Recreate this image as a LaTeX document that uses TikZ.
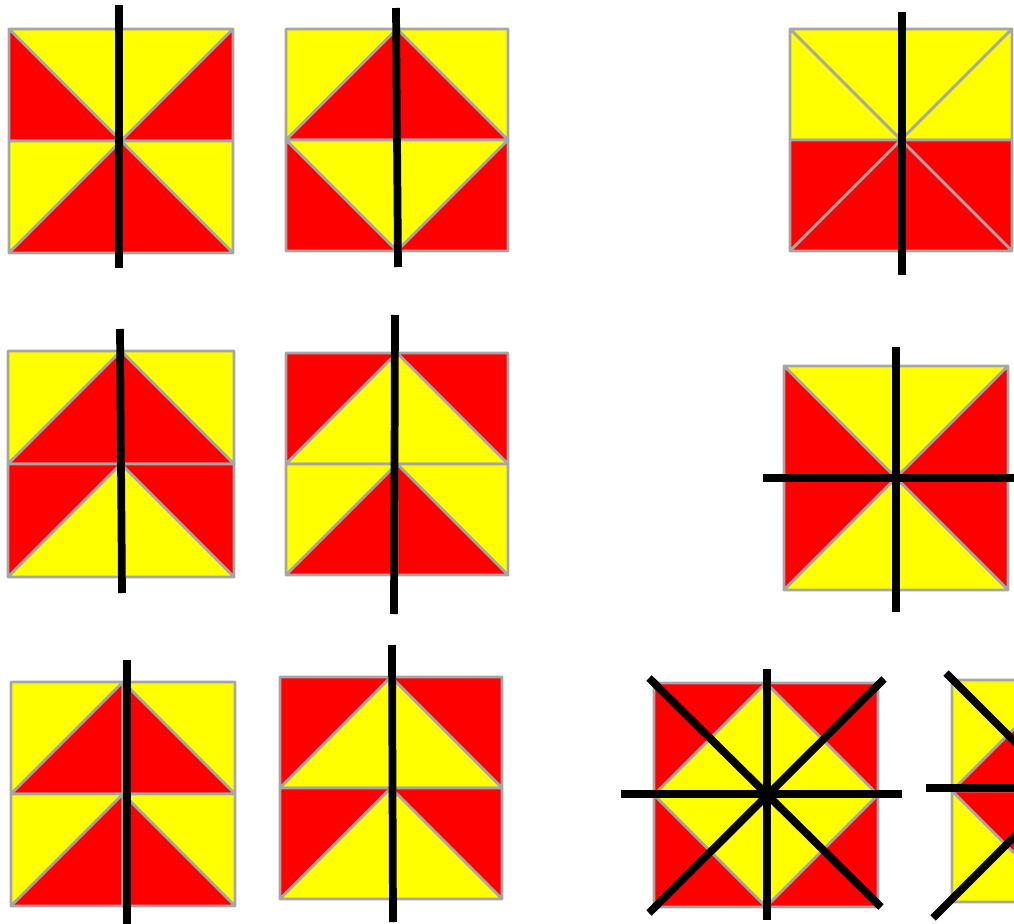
\documentclass[tikz,border=0pt]{standalone}
\definecolor{edgeGray}{HTML}{A6A6A6}
\definecolor{flagRed}{RGB}{255,0,0}
\definecolor{flagYellow}{RGB}{255,255,0}

% the nine corner/mid points of a tile, #1 = half side
\newcommand{\tilepoints}[1]{%
  \foreach \n/\i/\j in {TL/0/0,TM/1/0,TR/2/0,ML/0/1,C/1/1,MR/2/1,BL/0/2,BM/1/2,BR/2/2}
    \coordinate (\n) at (\i*#1,\j*#1);}

\begin{document}
\begin{tikzpicture}[x=0.75pt,y=-0.75pt,
  tri/.style={draw=edgeGray,line width=1.9pt,line join=round},
  axis/.style={line width=5.8pt}]
  \useasboundingbox (0,0) rectangle (1014,924);
  \clip (0,0) rectangle (1014,924);
  % row 1, tile 1
  \begin{scope}[shift={(9,29)}]
    \tilepoints{112}
    \foreach \a/\b/\c/\col in {TL/TM/C/flagYellow,TL/ML/C/flagRed,TM/TR/C/flagYellow,TR/MR/C/flagRed,
                               ML/C/BL/flagYellow,C/BM/BL/flagRed,C/MR/BR/flagYellow,C/BM/BR/flagRed}
      \filldraw[tri,fill=\col] (\a) -- (\b) -- (\c) -- cycle;
  \end{scope}
  \draw[axis] (119,5) -- (119,268);
  % row 1, tile 2
  \begin{scope}[shift={(286,29)}]
    \tilepoints{111}
    \foreach \a/\b/\c/\col in {TL/TM/ML/flagYellow,TM/C/ML/flagRed,TM/TR/MR/flagYellow,TM/C/MR/flagRed,
                               ML/C/BM/flagYellow,ML/BL/BM/flagRed,C/MR/BM/flagYellow,MR/BR/BM/flagRed}
      \filldraw[tri,fill=\col] (\a) -- (\b) -- (\c) -- cycle;
  \end{scope}
  \draw[axis] (396,8) -- (398,267);
  % row 1, tile 3
  \begin{scope}[shift={(790,29)}]
    \tilepoints{111}
    \foreach \a/\b/\c/\col in {TL/TM/C/flagYellow,TL/ML/C/flagYellow,TM/TR/C/flagYellow,TR/MR/C/flagYellow,
                               ML/C/BL/flagRed,C/BM/BL/flagRed,C/MR/BR/flagRed,C/BM/BR/flagRed}
      \filldraw[tri,fill=\col] (\a) -- (\b) -- (\c) -- cycle;
  \end{scope}
  \draw[axis] (902,12) -- (902,275);
  % row 2, tile 1
  \begin{scope}[shift={(8,351)}]
    \tilepoints{113}
    \foreach \a/\b/\c/\col in {TL/TM/ML/flagYellow,TM/C/ML/flagRed,TM/TR/MR/flagYellow,TM/C/MR/flagRed,
                               ML/C/BL/flagRed,C/BM/BL/flagYellow,C/MR/BR/flagRed,C/BM/BR/flagYellow}
      \filldraw[tri,fill=\col] (\a) -- (\b) -- (\c) -- cycle;
  \end{scope}
  \draw[axis] (120,329) -- (122,593);
  % row 2, tile 2
  \begin{scope}[shift={(286,353)}]
    \tilepoints{111}
    \foreach \a/\b/\c/\col in {TL/TM/ML/flagRed,TM/C/ML/flagYellow,TM/TR/MR/flagRed,TM/C/MR/flagYellow,
                               ML/C/BL/flagYellow,C/BM/BL/flagRed,C/MR/BR/flagYellow,C/BM/BR/flagRed}
      \filldraw[tri,fill=\col] (\a) -- (\b) -- (\c) -- cycle;
  \end{scope}
  \draw[axis] (395,315) -- (394,614);
  % row 2, tile 3
  \begin{scope}[shift={(784,366)}]
    \tilepoints{112}
    \foreach \a/\b/\c/\col in {TL/TM/C/flagYellow,TL/ML/C/flagRed,TM/TR/C/flagYellow,TR/MR/C/flagRed,
                               ML/C/BL/flagRed,C/BM/BL/flagYellow,C/MR/BR/flagRed,C/BM/BR/flagYellow}
      \filldraw[tri,fill=\col] (\a) -- (\b) -- (\c) -- cycle;
  \end{scope}
  \draw[axis] (896,347) -- (896,612);
  \draw[axis] (763,478) -- (1014,478);
  % row 3, tile 1
  \begin{scope}[shift={(11,682)}]
    \tilepoints{112}
    \foreach \a/\b/\c/\col in {TL/TM/ML/flagYellow,TM/C/ML/flagRed,TM/TR/MR/flagYellow,TM/C/MR/flagRed,
                               ML/C/BL/flagYellow,C/BM/BL/flagRed,C/MR/BR/flagYellow,C/BM/BR/flagRed}
      \filldraw[tri,fill=\col] (\a) -- (\b) -- (\c) -- cycle;
  \end{scope}
  \draw[axis] (127,660) -- (127,924);
  % row 3, tile 2
  \begin{scope}[shift={(280,677)}]
    \tilepoints{111}
    \foreach \a/\b/\c/\col in {TL/TM/ML/flagRed,TM/C/ML/flagYellow,TM/TR/MR/flagRed,TM/C/MR/flagYellow,
                               ML/C/BL/flagRed,C/BM/BL/flagYellow,C/MR/BR/flagRed,C/BM/BR/flagYellow}
      \filldraw[tri,fill=\col] (\a) -- (\b) -- (\c) -- cycle;
  \end{scope}
  \draw[axis] (392,645) -- (393,922);
  % row 3, tile 3
  \begin{scope}[shift={(654,683)}]
    \tilepoints{112}
    \foreach \a/\b/\c/\col in {TL/TM/ML/flagRed,TM/C/ML/flagYellow,TM/TR/MR/flagRed,TM/C/MR/flagYellow,
                               ML/C/BM/flagYellow,ML/BL/BM/flagRed,C/MR/BM/flagYellow,MR/BR/BM/flagRed}
      \filldraw[tri,fill=\col] (\a) -- (\b) -- (\c) -- cycle;
  \end{scope}
  \draw[axis] (767,669) -- (767,920);
  \draw[axis] (621,794) -- (902,794);
  \draw[axis] (649,678) -- (881,907);
  \draw[axis] (649,913) -- (884,679);
  % row 3, tile 4 (cut off at the edge)
  \begin{scope}[shift={(952,680)}]
    \tilepoints{111}
    \foreach \a/\b/\c/\col in {TL/TM/ML/flagYellow,TM/C/ML/flagRed,TM/TR/MR/flagYellow,TM/C/MR/flagRed,
                               ML/C/BM/flagRed,ML/BL/BM/flagYellow,C/MR/BM/flagRed,MR/BR/BM/flagYellow}
      \filldraw[tri,fill=\col] (\a) -- (\b) -- (\c) -- cycle;
  \end{scope}
  \draw[axis] (946,673) -- (1100,827);
  \draw[axis] (926,788) -- (1014,788);
  \draw[axis] (933,918) -- (1100,751);
\end{tikzpicture}
\end{document}
